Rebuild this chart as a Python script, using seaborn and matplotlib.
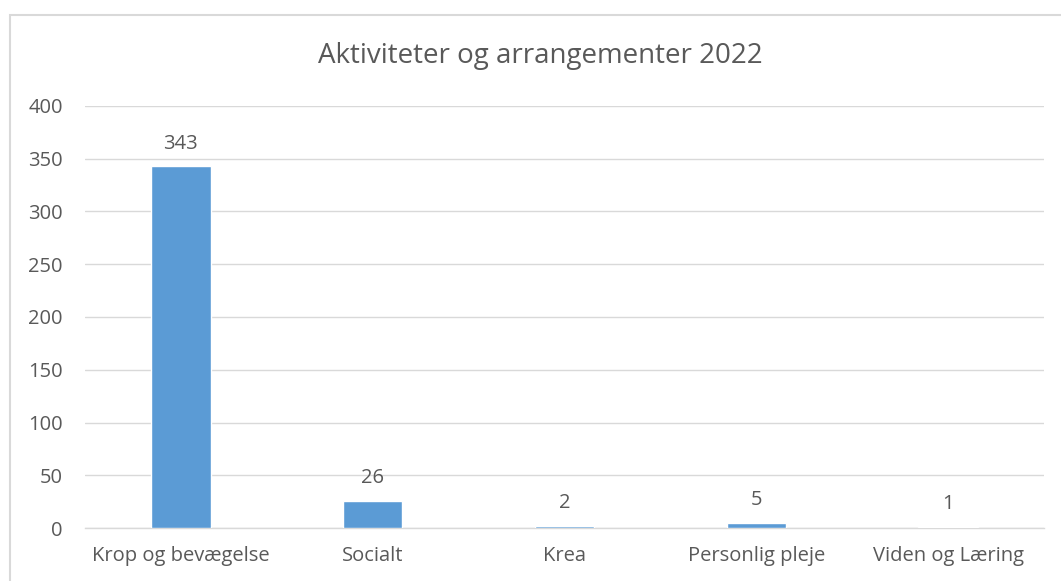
import pandas as pd
import matplotlib
matplotlib.use("Agg")
import matplotlib.pyplot as plt
import seaborn as sns
from matplotlib.patches import Rectangle

categories = ["Krop og bevægelse", "Socialt", "Krea", "Personlig pleje", "Viden og Læring"]
values = [343, 26, 2, 5, 1]
yticks = [0, 50, 100, 150, 200, 250, 300, 350, 400]

df = pd.DataFrame({"kategori": categories, "antal": values})

sns.set_style("white")
plt.rcParams["font.family"] = ["Open Sans", "DejaVu Sans"]
text_col = "#595959"

fig = plt.figure(figsize=(10.61, 5.81), dpi=100)
ax = fig.add_axes([0.0801, 0.0912, 0.904, 0.7264])

sns.barplot(data=df, x="kategori", y="antal", color="#5b9bd5", width=0.31,
            saturation=1, ax=ax, zorder=3)

ax.set_ylim(0, 400)
ax.set_xlim(-0.5, len(categories) - 0.5)
ax.set_yticks(yticks)
ax.yaxis.grid(True, color="#d9d9d9", linewidth=1, zorder=0)
ax.set_axisbelow(True)
for s in ["top", "right", "left"]:
    ax.spines[s].set_visible(False)
ax.spines["bottom"].set_color("#d9d9d9")
ax.spines["bottom"].set_linewidth(1)
ax.tick_params(axis="both", length=0, labelsize=14.5, colors=text_col)
ax.tick_params(axis="x", pad=13)
ax.tick_params(axis="y", pad=16)
ax.set_xlabel("")
ax.set_ylabel("")

for i, v in enumerate(values):
    ax.annotate(str(v), (i, v), xytext=(0, 9), textcoords="offset points",
                ha="center", va="bottom", fontsize=14.5, color=text_col)

fig.text(0.509, 0.903, "Aktiviteter og arrangementer 2022", ha="center", va="center",
         fontsize=20, color=text_col)

fig.patches.append(Rectangle((9.5 / 1061, -0.1), 1.2, 1 - 14.5 / 581 + 0.1,
                             transform=fig.transFigure, fill=False,
                             edgecolor="#d9d9d9", linewidth=1.5))

fig.savefig("out.png", dpi=100, facecolor="white")
